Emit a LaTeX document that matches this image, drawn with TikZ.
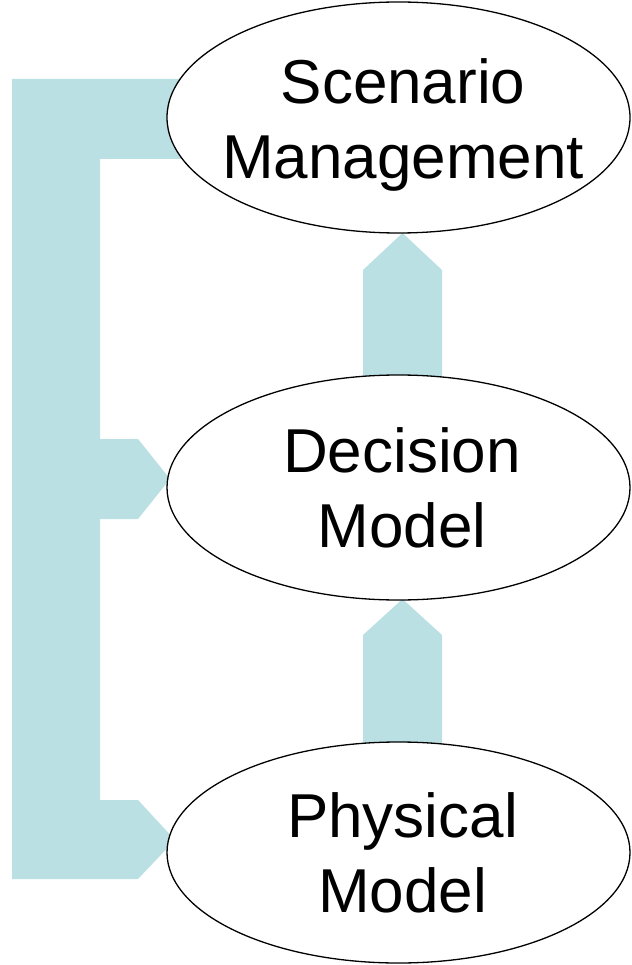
\documentclass[tikz,border=0pt]{standalone}
\usepackage{fontspec}
\setmainfont{Liberation Sans}
\usetikzlibrary{shapes.geometric}
\definecolor{blockblue}{RGB}{187,224,227}
\tikzset{
  blockarrow/.style={fill=blockblue, draw=none},
  ellbox/.style={ellipse, draw=black, line width=1.3pt, fill=white, inner sep=0pt, minimum width=463pt},
  lbl/.style={align=center, inner sep=0pt, font=\fontsize{62}{75}\selectfont}
}
\begin{document}
\begin{tikzpicture}[x=1pt,y=-1pt]
\useasboundingbox (0,0) rectangle (631,965);
% left bracket with two arrow heads
\fill[blockarrow] (12,79) -- (200,79) -- (200,159) -- (100,159) -- (100,439) -- (138,439) -- (170,479)
  -- (138,519) -- (100,519) -- (100,800) -- (138,800) -- (175,840) -- (138,879) -- (12,879) -- cycle;
% vertical arrows
\fill[blockarrow] (363,400) -- (363,270) -- (402.5,233) -- (442,270) -- (442,400) -- cycle;
\fill[blockarrow] (363,770) -- (363,635) -- (402.5,599) -- (442,635) -- (442,770) -- cycle;
% ellipses
\node[ellbox, minimum height=231pt] (sm) at (398.5,117.5) {};
\node[ellbox, minimum height=225pt] (dm) at (398.5,487.5) {};
\node[ellbox, minimum height=221pt] (pm) at (398.5,852.5) {};
% labels
\node[lbl] (smt) at (403,125) {Scenario\\Management};
\node[lbl] (dmt) at (402,488) {Decision\\Model};
\node[lbl] (pmt) at (402.5,853) {Physical\\Model};
\end{tikzpicture}
\end{document}
